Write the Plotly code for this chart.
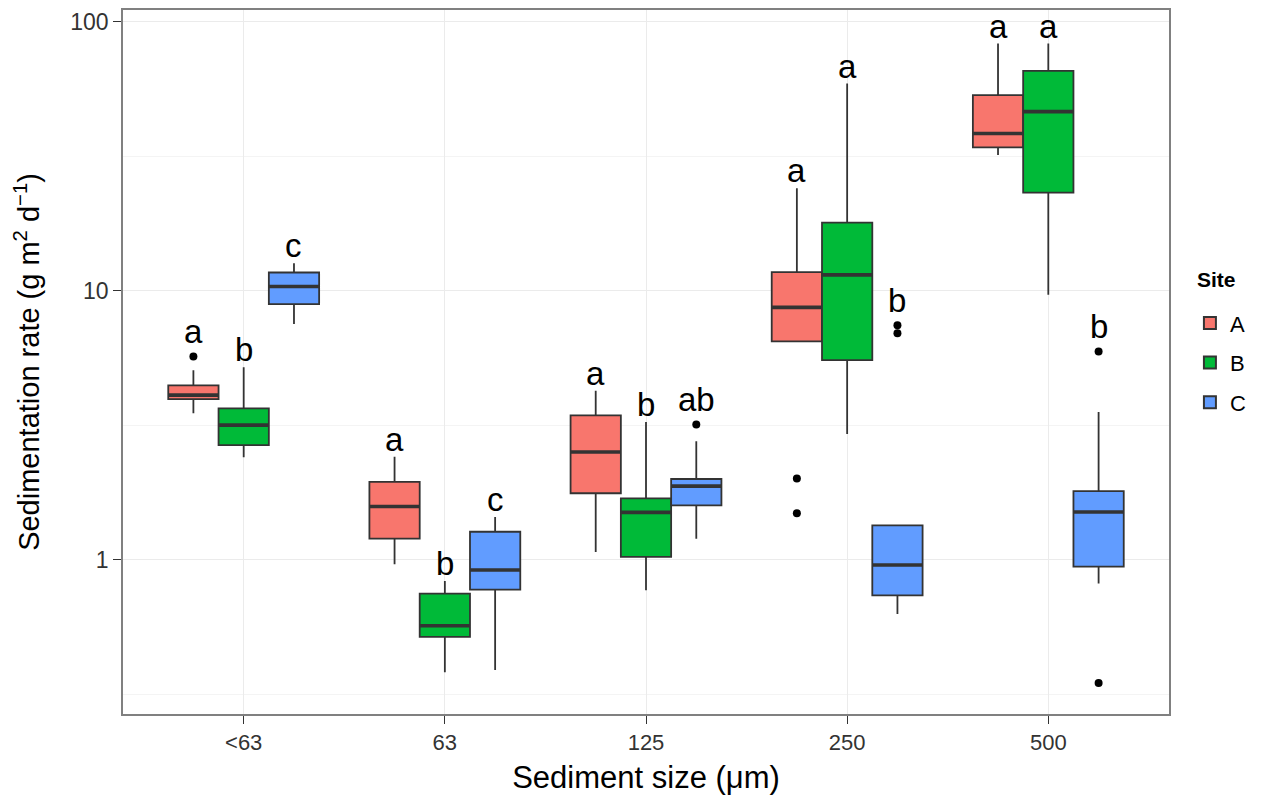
import math
import plotly.graph_objects as go

# ---------------- data ----------------
categories = ["<63", "63", "125", "250", "500"]
sites = ["A", "B", "C"]

a_q1 = [3.96, 1.20, 1.77, 6.50, 34.2]
a_med = [4.10, 1.58, 2.52, 8.69, 38.5]
a_q3 = [4.46, 1.95, 3.45, 11.74, 53.5]
a_low = [3.51, 0.964, 1.07, 6.50, 32.0]
a_high = [5.07, 2.42, 4.26, 24.07, 83.1]
a_out_cat = [0, 3, 3]
a_out_val = [5.71, 2.01, 1.49]
a_letters = ["a", "a", "a", "a", "a"]

b_q1 = [2.67, 0.518, 1.026, 5.53, 23.2]
b_med = [3.17, 0.569, 1.503, 11.48, 46.4]
b_q3 = [3.66, 0.750, 1.694, 17.96, 65.8]
b_low = [2.41, 0.382, 0.772, 2.94, 9.68]
b_high = [5.20, 0.836, 3.26, 59.0, 83.1]
b_out_cat = []
b_out_val = []
b_letters = ["b", "b", "b", "a", "a"]

c_q1 = [8.93, 0.776, 1.595, 0.739, 0.944]
c_med = [10.39, 0.918, 1.882, 0.958, 1.507]
c_q3 = [11.71, 1.273, 2.00, 1.345, 1.803]
c_low = [7.53, 0.390, 1.20, 0.629, 0.817]
c_high = [12.68, 1.444, 2.765, 1.345, 3.55]
c_out_cat = [2, 3, 3, 4, 4]
c_out_val = [3.19, 7.45, 6.97, 5.96, 0.349]
c_letters = ["c", "c", "ab", "b", "b"]

y_tickvals = [1, 10, 100]
y_ticktext = ["1", "10", "100"]
y_minor = [0.316, 3.16, 31.6]

# ---------------- styling ----------------
colors = ["#F8766D", "#00BA38", "#619CFF"]
offsets = [-0.25, 0.0, 0.25]
box_w = 0.25
edge = "#333333"
FONT = "Liberation Sans, Arial, Helvetica, sans-serif"

site_data = [
    (a_q1, a_med, a_q3, a_low, a_high, a_out_cat, a_out_val, a_letters),
    (b_q1, b_med, b_q3, b_low, b_high, b_out_cat, b_out_val, b_letters),
    (c_q1, c_med, c_q3, c_low, c_high, c_out_cat, c_out_val, c_letters),
]

fig = go.Figure()
annotations = []

for s, (q1, med, q3, low, high, oc, ov, letters) in enumerate(site_data):
    xs = [i + offsets[s] for i in range(len(categories))]
    fig.add_trace(go.Box(
        x=xs, q1=q1, median=med, q3=q3, lowerfence=low, upperfence=high,
        width=box_w, whiskerwidth=0, boxpoints=False,
        fillcolor=colors[s], line=dict(color=edge, width=1.8),
        name=sites[s], legendgroup=sites[s], showlegend=True,
    ))
    # thicker median line (ggplot fatten)
    fig.add_trace(go.Box(
        x=xs, q1=med, median=med, q3=med, lowerfence=med, upperfence=med,
        width=box_w, whiskerwidth=0, boxpoints=False,
        fillcolor="rgba(0,0,0,0)", line=dict(color=edge, width=3.6),
        showlegend=False, hoverinfo="skip", legendgroup=sites[s],
    ))
    if ov:
        fig.add_trace(go.Scatter(
            x=[c + offsets[s] for c in oc], y=ov, mode="markers",
            marker=dict(color="black", size=8),
            showlegend=False, hoverinfo="skip",
        ))
    for i, lab in enumerate(letters):
        outs = [v for c, v in zip(oc, ov) if c == i]
        top = max([high[i]] + outs)
        has_out = bool(outs) and max(outs) > high[i]
        annotations.append(dict(
            x=i + offsets[s], y=math.log10(top), xref="x", yref="y", text=lab,
            showarrow=False, yanchor="bottom", xanchor="center",
            yshift=4 if has_out else -3,
            font=dict(family=FONT, size=33, color="black"),
        ))

annotations.append(dict(
    x=1.025, y=0.6176, xref="paper", yref="paper", text="<b>Site</b>",
    showarrow=False, xanchor="left", yanchor="middle",
    font=dict(family=FONT, size=21, color="black"),
))

# page body has an 8px margin: the figure is shrunk/offset so the plot panel
# lands on the same pixels as the reference (x 123-1169, y 8-714)
fig.update_layout(
    width=1271, height=790,
    margin=dict(l=115, r=110, t=0, b=84),
    paper_bgcolor="white", plot_bgcolor="white",
    boxmode="overlay",
    font=dict(family=FONT, color="#222222"),
    annotations=annotations,
    legend=dict(
        font=dict(size=22, color="black"),
        x=1.02, xanchor="left", y=0.585, yanchor="top",
        tracegroupgap=8, itemsizing="constant",
        bgcolor="rgba(0,0,0,0)",
    ),
    xaxis=dict(
        range=[-0.6, 4.6], tickmode="array",
        tickvals=list(range(len(categories))), ticktext=categories,
        showgrid=True, gridcolor="#ebebeb", gridwidth=1,
        zeroline=False, ticks="outside", ticklen=8, tickwidth=1.2,
        tickcolor="#333333", tickfont=dict(size=22, color="#333333"),
        showline=True, mirror=True, linecolor="#808080", linewidth=1.5,
        title=dict(text="Sediment size (\u03bcm)", font=dict(size=31, color="black"), standoff=12),
    ),
    yaxis=dict(
        type="log", range=[-0.5727, 2.0445],
        tickmode="array", tickvals=y_tickvals, ticktext=y_ticktext,
        showgrid=True, gridcolor="#ebebeb", gridwidth=1,
        minor=dict(tickmode="array", tickvals=y_minor, showgrid=True,
                   gridcolor="#f4f4f4", gridwidth=1, ticks=""),
        zeroline=False, ticks="outside", ticklen=8, tickwidth=1.2,
        tickcolor="#333333", tickfont=dict(size=23, color="#333333"),
        showline=True, mirror=True, linecolor="#808080", linewidth=1.5,
        title=dict(text="Sedimentation rate (g m<sup>2</sup> d<sup>\u22121</sup>)",
                   font=dict(size=29, color="black"), standoff=22),
    ),
)

fig.write_html("out.html")
